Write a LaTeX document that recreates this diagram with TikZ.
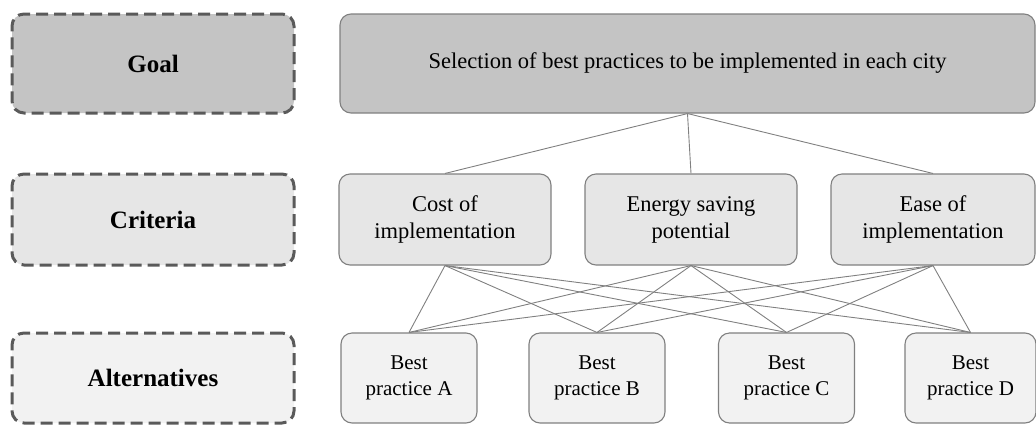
\documentclass[tikz,border=0pt]{standalone}
\usepackage{fontspec}
\setmainfont{Liberation Serif}
\usepackage{xcolor}
\usepackage{tikz}
\definecolor{goalgray}{HTML}{C4C4C4}
\definecolor{critgray}{HTML}{E6E6E6}
\definecolor{altgray}{HTML}{F2F2F2}
\definecolor{dashgray}{HTML}{5A5A5A}
\definecolor{linegray}{HTML}{808080}

\begin{document}
\begin{tikzpicture}[x=1pt,y=-1pt,
  level/.style={draw=dashgray, line width=3pt, dash pattern=on 12pt off 6pt,
    rounded corners=12pt, minimum width=282pt, inner sep=0pt,
    font=\fontsize{25}{30}\selectfont\bfseries},
  item/.style={draw=linegray, line width=1.1pt, rounded corners=11pt,
    align=center, inner sep=0pt},
  big/.style={font=\fontsize{22.5}{27}\selectfont},
  small/.style={font=\fontsize{21}{26}\selectfont},
  link/.style={draw=linegray, line width=0.9pt}]
\useasboundingbox (0,0) rectangle (1036,424);
\node[level, fill=goalgray, minimum height=99pt] (goal) at (153,63.5) {Goal};
\node[level, fill=critgray, minimum height=91pt] (crit) at (153,219.5) {Criteria};
\node[level, fill=altgray, minimum height=90pt] (alt) at (153,378) {Alternatives};
\node[item, big, fill=goalgray, minimum width=695pt, minimum height=99pt] (select) at (687.5,63.5)
  {Selection of best practices to be implemented in each city};
\node[item, big, fill=critgray, minimum width=212pt, minimum height=91pt] (cost) at (445,219.5) {Cost of\\implementation};
\node[item, big, fill=critgray, minimum width=212pt, minimum height=91pt] (energy) at (691,219.5) {Energy saving\\potential};
\node[item, big, fill=critgray, minimum width=204pt, minimum height=91pt] (ease) at (933,219.5) {Ease of\\implementation};
\node[item, small, fill=altgray, minimum width=136pt, minimum height=90pt] (pa) at (409,378) {Best\\practice A};
\node[item, small, fill=altgray, minimum width=136pt, minimum height=90pt] (pb) at (597,378) {Best\\practice B};
\node[item, small, fill=altgray, minimum width=136pt, minimum height=90pt] (pc) at (786.5,378) {Best\\practice C};
\node[item, small, fill=altgray, minimum width=131pt, minimum height=90pt] (pd) at (970.5,378) {Best\\practice D};
\foreach \c in {cost,energy,ease}
  \draw[link] (select.south) -- (\c.north);
\foreach \c in {cost,energy,ease}
  \foreach \a in {pa,pb,pc,pd}
    \draw[link] (\c.south) -- (\a.north);
\end{tikzpicture}
\end{document}
